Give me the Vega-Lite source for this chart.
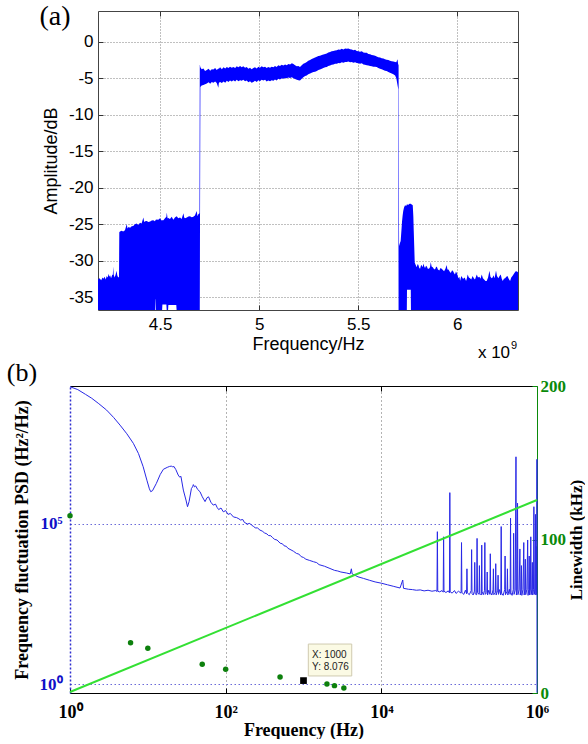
{
  "$schema": "https://vega.github.io/schema/vega-lite/v6.json",
  "background": "white",
  "padding": {"left": 6, "top": 3, "right": 0, "bottom": 0},
  "config": {"view": {"stroke": null}},
  "columns": 1,
  "spacing": -2,
  "align": "each",
  "datasets": {
    "spec": [
      {"f":4.187,"hi":-32.6,"lo":-37},{"f":4.195,"hi":-32.4,"lo":-37},{"f":4.203,"hi":-32.7,"lo":-37},{"f":4.21,"hi":-32.3,"lo":-37},
      {"f":4.214,"hi":-32.5,"lo":-37},{"f":4.22,"hi":-32.2,"lo":-37},{"f":4.226,"hi":-32.6,"lo":-37},{"f":4.231,"hi":-32.1,"lo":-37},
      {"f":4.236,"hi":-32.3,"lo":-37},{"f":4.241,"hi":-31.8,"lo":-37},{"f":4.244,"hi":-32.2,"lo":-37},{"f":4.248,"hi":-32.0,"lo":-37},
      {"f":4.253,"hi":-32.4,"lo":-37},{"f":4.258,"hi":-32.0,"lo":-37},{"f":4.262,"hi":-31.9,"lo":-37},{"f":4.264,"hi":-30.8,"lo":-37},
      {"f":4.266,"hi":-31.9,"lo":-37},{"f":4.271,"hi":-32.3,"lo":-37},{"f":4.276,"hi":-31.9,"lo":-37},{"f":4.281,"hi":-31.4,"lo":-37},
      {"f":4.284,"hi":-32.0,"lo":-37},{"f":4.289,"hi":-32.3,"lo":-37},{"f":4.293,"hi":-32.2,"lo":-37},{"f":4.2945,"hi":-26.1,"lo":-37},
      {"f":4.298,"hi":-26.0,"lo":-37},{"f":4.306,"hi":-25.9,"lo":-37},{"f":4.314,"hi":-26.0,"lo":-37},{"f":4.323,"hi":-25.85,"lo":-37},
      {"f":4.332,"hi":-25.0,"lo":-37},{"f":4.336,"hi":-25.6,"lo":-37},{"f":4.341,"hi":-25.4,"lo":-37},{"f":4.349,"hi":-25.5,"lo":-37},
      {"f":4.357,"hi":-25.3,"lo":-37},{"f":4.365,"hi":-25.25,"lo":-37},{"f":4.373,"hi":-25.0,"lo":-37},{"f":4.382,"hi":-24.9,"lo":-37},
      {"f":4.39,"hi":-25.1,"lo":-37},{"f":4.399,"hi":-24.8,"lo":-37},{"f":4.407,"hi":-24.9,"lo":-37},{"f":4.416,"hi":-24.1,"lo":-37},
      {"f":4.42,"hi":-24.7,"lo":-37},{"f":4.425,"hi":-24.6,"lo":-37},{"f":4.433,"hi":-24.55,"lo":-37},{"f":4.441,"hi":-24.7,"lo":-37},
      {"f":4.45,"hi":-24.65,"lo":-37},{"f":4.458,"hi":-24.5,"lo":-37},{"f":4.466,"hi":-24.45,"lo":-37},{"f":4.474,"hi":-24.6,"lo":-37},
      {"f":4.476,"hi":-24.5,"lo":-37},{"f":4.4775,"hi":-24.45,"lo":-35.3},{"f":4.4785,"hi":-24.4,"lo":-35.3},{"f":4.48,"hi":-24.4,"lo":-37},
      {"f":4.483,"hi":-24.35,"lo":-37},{"f":4.491,"hi":-24.4,"lo":-37},{"f":4.5,"hi":-24.2,"lo":-37},{"f":4.508,"hi":-24.5,"lo":-37},
      {"f":4.51,"hi":-24.45,"lo":-37},{"f":4.512,"hi":-24.45,"lo":-36.0},{"f":4.517,"hi":-24.45,"lo":-36.0},{"f":4.525,"hi":-24.2,"lo":-36.0},
      {"f":4.532,"hi":-24.0,"lo":-36.0},{"f":4.534,"hi":-23.4,"lo":-37},{"f":4.538,"hi":-24.2,"lo":-37},{"f":4.54,"hi":-24.2,"lo":-37},
      {"f":4.542,"hi":-24.15,"lo":-36.1},{"f":4.55,"hi":-24.3,"lo":-36.1},{"f":4.559,"hi":-24.0,"lo":-36.1},{"f":4.567,"hi":-24.4,"lo":-36.1},
      {"f":4.575,"hi":-24.1,"lo":-36.1},{"f":4.582,"hi":-23.95,"lo":-36.1},{"f":4.584,"hi":-23.9,"lo":-37},{"f":4.592,"hi":-24.2,"lo":-37},
      {"f":4.601,"hi":-24.1,"lo":-37},{"f":4.609,"hi":-24.3,"lo":-37},{"f":4.618,"hi":-23.5,"lo":-37},{"f":4.622,"hi":-24.1,"lo":-37},
      {"f":4.626,"hi":-24.2,"lo":-37},{"f":4.635,"hi":-24.1,"lo":-37},{"f":4.643,"hi":-23.95,"lo":-37},{"f":4.651,"hi":-23.9,"lo":-37},
      {"f":4.66,"hi":-24.05,"lo":-37},{"f":4.668,"hi":-24.0,"lo":-37},{"f":4.676,"hi":-23.8,"lo":-37},{"f":4.685,"hi":-23.2,"lo":-37},
      {"f":4.689,"hi":-23.9,"lo":-37},{"f":4.693,"hi":-23.65,"lo":-37},{"f":4.699,"hi":-23.5,"lo":-37},{"f":4.7005,"hi":-3.1,"lo":-37},
      {"f":4.7035,"hi":-3.5,"lo":-6.2},{"f":4.71,"hi":-3.75,"lo":-6.0},{"f":4.719,"hi":-3.67,"lo":-5.9},{"f":4.727,"hi":-4.0,"lo":-5.8},
      {"f":4.736,"hi":-3.85,"lo":-5.7},{"f":4.745,"hi":-3.7,"lo":-5.55},{"f":4.753,"hi":-3.95,"lo":-5.75},{"f":4.761,"hi":-3.75,"lo":-5.5},
      {"f":4.769,"hi":-3.8,"lo":-5.6},{"f":4.778,"hi":-3.6,"lo":-5.45},{"f":4.786,"hi":-3.85,"lo":-5.65},{"f":4.794,"hi":-3.65,"lo":-6.3},
      {"f":4.797,"hi":-3.7,"lo":-5.6},{"f":4.803,"hi":-3.5,"lo":-5.5},{"f":4.812,"hi":-3.75,"lo":-5.65},{"f":4.82,"hi":-3.5,"lo":-5.45},
      {"f":4.829,"hi":-3.65,"lo":-5.6},{"f":4.837,"hi":-3.45,"lo":-5.35},{"f":4.845,"hi":-3.6,"lo":-5.5},{"f":4.853,"hi":-3.4,"lo":-5.3},
      {"f":4.862,"hi":-3.55,"lo":-5.45},{"f":4.87,"hi":-3.45,"lo":-5.25},{"f":4.879,"hi":-3.6,"lo":-5.45},{"f":4.887,"hi":-3.35,"lo":-5.2},
      {"f":4.895,"hi":-3.5,"lo":-5.4},{"f":4.904,"hi":-3.3,"lo":-5.25},{"f":4.912,"hi":-3.5,"lo":-5.35},{"f":4.92,"hi":-3.35,"lo":-5.2},
      {"f":4.929,"hi":-3.55,"lo":-5.4},{"f":4.937,"hi":-3.45,"lo":-5.3},{"f":4.946,"hi":-3.7,"lo":-5.55},{"f":4.954,"hi":-3.55,"lo":-5.4},
      {"f":4.962,"hi":-3.75,"lo":-5.6},{"f":4.971,"hi":-3.6,"lo":-5.5},{"f":4.979,"hi":-3.5,"lo":-5.35},{"f":4.988,"hi":-3.65,"lo":-5.5},
      {"f":4.996,"hi":-3.4,"lo":-5.25},{"f":5.004,"hi":-3.55,"lo":-5.4},{"f":5.013,"hi":-3.35,"lo":-5.2},{"f":5.021,"hi":-3.5,"lo":-5.3},
      {"f":5.03,"hi":-3.4,"lo":-5.2},{"f":5.038,"hi":-3.6,"lo":-5.45},{"f":5.046,"hi":-3.45,"lo":-5.3},{"f":5.055,"hi":-3.55,"lo":-5.4},
      {"f":5.063,"hi":-3.4,"lo":-5.25},{"f":5.072,"hi":-3.5,"lo":-5.35},{"f":5.08,"hi":-3.3,"lo":-5.15},{"f":5.088,"hi":-3.45,"lo":-5.3},
      {"f":5.097,"hi":-3.2,"lo":-5.05},{"f":5.105,"hi":-3.3,"lo":-5.15},{"f":5.114,"hi":-3.15,"lo":-5.0},{"f":5.122,"hi":-3.25,"lo":-5.05},
      {"f":5.131,"hi":-3.1,"lo":-4.95},{"f":5.139,"hi":-3.2,"lo":-5.0},{"f":5.148,"hi":-3.05,"lo":-4.9},{"f":5.156,"hi":-3.1,"lo":-4.95},
      {"f":5.165,"hi":-2.95,"lo":-4.85},{"f":5.173,"hi":-3.05,"lo":-5.0},{"f":5.181,"hi":-3.2,"lo":-5.1},{"f":5.19,"hi":-3.35,"lo":-5.2},
      {"f":5.198,"hi":-3.3,"lo":-5.25},{"f":5.206,"hi":-3.45,"lo":-5.3},{"f":5.215,"hi":-3.2,"lo":-5.05},{"f":5.223,"hi":-3.0,"lo":-4.85},
      {"f":5.232,"hi":-2.9,"lo":-4.7},{"f":5.24,"hi":-2.75,"lo":-4.6},{"f":5.248,"hi":-2.6,"lo":-4.45},{"f":5.257,"hi":-2.5,"lo":-4.35},
      {"f":5.265,"hi":-2.35,"lo":-4.25},{"f":5.274,"hi":-2.25,"lo":-4.15},{"f":5.282,"hi":-2.15,"lo":-4.1},{"f":5.291,"hi":-2.05,"lo":-4.0},
      {"f":5.299,"hi":-1.95,"lo":-3.85},{"f":5.307,"hi":-1.9,"lo":-3.8},{"f":5.316,"hi":-1.8,"lo":-3.7},{"f":5.324,"hi":-1.75,"lo":-3.6},
      {"f":5.333,"hi":-1.65,"lo":-3.5},{"f":5.341,"hi":-1.6,"lo":-3.45},{"f":5.349,"hi":-1.45,"lo":-3.3},{"f":5.358,"hi":-1.4,"lo":-3.25},
      {"f":5.366,"hi":-1.3,"lo":-3.15},{"f":5.375,"hi":-1.25,"lo":-3.1},{"f":5.383,"hi":-1.2,"lo":-3.0},{"f":5.392,"hi":-1.15,"lo":-3.0},
      {"f":5.4,"hi":-1.05,"lo":-2.9},{"f":5.408,"hi":-1.1,"lo":-2.95},{"f":5.417,"hi":-0.95,"lo":-2.8},{"f":5.425,"hi":-1.05,"lo":-2.85},
      {"f":5.434,"hi":-0.9,"lo":-2.75},{"f":5.442,"hi":-0.95,"lo":-2.75},{"f":5.45,"hi":-0.9,"lo":-2.7},{"f":5.459,"hi":-1.0,"lo":-2.8},
      {"f":5.467,"hi":-1.05,"lo":-2.75},{"f":5.476,"hi":-1.15,"lo":-2.85},{"f":5.484,"hi":-1.1,"lo":-2.8},{"f":5.492,"hi":-1.25,"lo":-2.9},
      {"f":5.501,"hi":-1.3,"lo":-2.95},{"f":5.509,"hi":-1.35,"lo":-3.0},{"f":5.518,"hi":-1.3,"lo":-2.95},{"f":5.526,"hi":-1.45,"lo":-3.1},
      {"f":5.534,"hi":-1.5,"lo":-3.15},{"f":5.543,"hi":-1.5,"lo":-3.2},{"f":5.551,"hi":-1.65,"lo":-3.25},{"f":5.56,"hi":-1.7,"lo":-3.3},
      {"f":5.568,"hi":-1.8,"lo":-3.35},{"f":5.576,"hi":-1.85,"lo":-3.4},{"f":5.585,"hi":-1.9,"lo":-3.4},{"f":5.593,"hi":-2.0,"lo":-3.45},
      {"f":5.601,"hi":-2.1,"lo":-3.6},{"f":5.61,"hi":-2.15,"lo":-3.7},{"f":5.618,"hi":-2.25,"lo":-3.75},{"f":5.627,"hi":-2.3,"lo":-3.85},
      {"f":5.635,"hi":-2.4,"lo":-3.95},{"f":5.643,"hi":-2.45,"lo":-4.0},{"f":5.652,"hi":-2.5,"lo":-4.15},{"f":5.66,"hi":-2.6,"lo":-4.25},
      {"f":5.669,"hi":-2.65,"lo":-4.35},{"f":5.677,"hi":-2.7,"lo":-4.45},{"f":5.686,"hi":-2.75,"lo":-4.6},{"f":5.692,"hi":-2.8,"lo":-5.0},
      {"f":5.698,"hi":-2.4,"lo":-5.9},{"f":5.702,"hi":-3.2,"lo":-6.5},{"f":5.7035,"hi":-3.0,"lo":-37},{"f":5.706,"hi":-28.0,"lo":-37},
      {"f":5.71,"hi":-27.6,"lo":-37},{"f":5.714,"hi":-27.3,"lo":-37},{"f":5.718,"hi":-25.8,"lo":-37},{"f":5.721,"hi":-24.6,"lo":-37},
      {"f":5.724,"hi":-23.8,"lo":-37},{"f":5.727,"hi":-23.2,"lo":-37},{"f":5.731,"hi":-22.7,"lo":-37},{"f":5.736,"hi":-22.4,"lo":-37},
      {"f":5.742,"hi":-22.5,"lo":-37},{"f":5.745,"hi":-22.3,"lo":-37},{"f":5.746,"hi":-22.3,"lo":-34.0},{"f":5.753,"hi":-22.35,"lo":-34.0},
      {"f":5.759,"hi":-22.2,"lo":-34.0},{"f":5.765,"hi":-22.2,"lo":-34.0},{"f":5.766,"hi":-22.25,"lo":-37},{"f":5.77,"hi":-22.3,"lo":-37},
      {"f":5.775,"hi":-22.4,"lo":-37},{"f":5.778,"hi":-24.0,"lo":-37},{"f":5.78,"hi":-25.9,"lo":-37},{"f":5.783,"hi":-28.5,"lo":-37},
      {"f":5.785,"hi":-30.3,"lo":-37},{"f":5.79,"hi":-30.6,"lo":-37},{"f":5.795,"hi":-30.9,"lo":-37},{"f":5.799,"hi":-30.5,"lo":-37},
      {"f":5.803,"hi":-30.55,"lo":-37},{"f":5.808,"hi":-31.0,"lo":-37},{"f":5.812,"hi":-31.1,"lo":-37},{"f":5.816,"hi":-30.7,"lo":-37},
      {"f":5.82,"hi":-30.6,"lo":-37},{"f":5.825,"hi":-30.9,"lo":-37},{"f":5.829,"hi":-30.4,"lo":-37},{"f":5.833,"hi":-30.8,"lo":-37},
      {"f":5.837,"hi":-31.0,"lo":-37},{"f":5.842,"hi":-30.7,"lo":-37},{"f":5.846,"hi":-30.8,"lo":-37},{"f":5.851,"hi":-31.1,"lo":-37},
      {"f":5.857,"hi":-31.1,"lo":-37},{"f":5.862,"hi":-30.9,"lo":-37},{"f":5.866,"hi":-30.2,"lo":-37},{"f":5.87,"hi":-30.8,"lo":-37},
      {"f":5.876,"hi":-30.9,"lo":-37},{"f":5.881,"hi":-31.1,"lo":-37},{"f":5.887,"hi":-31.2,"lo":-37},{"f":5.892,"hi":-30.9,"lo":-37},
      {"f":5.896,"hi":-30.8,"lo":-37},{"f":5.902,"hi":-31.2,"lo":-37},{"f":5.909,"hi":-31.35,"lo":-37},{"f":5.915,"hi":-31.0,"lo":-37},
      {"f":5.921,"hi":-31.1,"lo":-37},{"f":5.927,"hi":-31.3,"lo":-37},{"f":5.933,"hi":-31.45,"lo":-37},{"f":5.94,"hi":-31.1,"lo":-37},
      {"f":5.946,"hi":-30.6,"lo":-37},{"f":5.95,"hi":-31.2,"lo":-37},{"f":5.955,"hi":-31.2,"lo":-37},{"f":5.961,"hi":-31.5,"lo":-37},
      {"f":5.967,"hi":-31.7,"lo":-37},{"f":5.972,"hi":-31.4,"lo":-37},{"f":5.977,"hi":-31.35,"lo":-37},{"f":5.983,"hi":-31.7,"lo":-37},
      {"f":5.988,"hi":-31.9,"lo":-37},{"f":5.993,"hi":-31.5,"lo":-37},{"f":5.997,"hi":-31.7,"lo":-37},{"f":6.001,"hi":-32.0,"lo":-37},
      {"f":6.005,"hi":-32.4,"lo":-37},{"f":6.01,"hi":-32.2,"lo":-37},{"f":6.014,"hi":-32.75,"lo":-37},{"f":6.018,"hi":-32.3,"lo":-37},
      {"f":6.022,"hi":-32.1,"lo":-37},{"f":6.026,"hi":-32.4,"lo":-37},{"f":6.03,"hi":-32.5,"lo":-37},{"f":6.037,"hi":-32.3,"lo":-37},
      {"f":6.044,"hi":-32.8,"lo":-37},{"f":6.048,"hi":-32.4,"lo":-37},{"f":6.052,"hi":-31.9,"lo":-37},{"f":6.058,"hi":-32.3,"lo":-37},
      {"f":6.064,"hi":-32.4,"lo":-37},{"f":6.07,"hi":-32.6,"lo":-37},{"f":6.077,"hi":-32.1,"lo":-37},{"f":6.083,"hi":-32.4,"lo":-37},
      {"f":6.089,"hi":-32.6,"lo":-37},{"f":6.094,"hi":-32.2,"lo":-37},{"f":6.098,"hi":-31.9,"lo":-37},{"f":6.104,"hi":-32.3,"lo":-37},
      {"f":6.111,"hi":-32.2,"lo":-37},{"f":6.117,"hi":-32.5,"lo":-37},{"f":6.123,"hi":-31.9,"lo":-37},{"f":6.129,"hi":-32.4,"lo":-37},
      {"f":6.135,"hi":-32.6,"lo":-37},{"f":6.142,"hi":-32.8,"lo":-37},{"f":6.148,"hi":-32.8,"lo":-37},{"f":6.155,"hi":-32.3,"lo":-37},
      {"f":6.162,"hi":-31.4,"lo":-37},{"f":6.167,"hi":-32.2,"lo":-37},{"f":6.173,"hi":-32.4,"lo":-37},{"f":6.178,"hi":-32.3,"lo":-37},
      {"f":6.182,"hi":-32.0,"lo":-37},{"f":6.188,"hi":-32.4,"lo":-37},{"f":6.195,"hi":-31.35,"lo":-37},{"f":6.2,"hi":-32.1,"lo":-37},
      {"f":6.207,"hi":-32.4,"lo":-37},{"f":6.213,"hi":-32.1,"lo":-37},{"f":6.219,"hi":-31.9,"lo":-37},{"f":6.224,"hi":-32.5,"lo":-37},
      {"f":6.229,"hi":-32.8,"lo":-37},{"f":6.235,"hi":-32.5,"lo":-37},{"f":6.241,"hi":-32.4,"lo":-37},{"f":6.247,"hi":-32.2,"lo":-37},
      {"f":6.253,"hi":-32.1,"lo":-37},{"f":6.259,"hi":-32.5,"lo":-37},{"f":6.266,"hi":-32.8,"lo":-37},{"f":6.272,"hi":-32.3,"lo":-37},
      {"f":6.278,"hi":-32.1,"lo":-37},{"f":6.283,"hi":-31.9,"lo":-37},{"f":6.288,"hi":-31.7,"lo":-37},{"f":6.293,"hi":-31.5,"lo":-37},
      {"f":6.297,"hi":-31.45,"lo":-37},{"f":6.301,"hi":-31.5,"lo":-37},{"f":6.306,"hi":-31.6,"lo":-37}
    ],
    "psd": [
      {"f":1,"v":1950000000},{"f":1.259,"v":1585000000},{"f":1.585,"v":1122000000},{"f":1.9,"v":851000000},
      {"f":2.344,"v":575400000},{"f":2.951,"v":363100000},{"f":3.631,"v":213800000},{"f":4.395,"v":123000000},
      {"f":5.37,"v":66070000},{"f":6.516,"v":33110000},{"f":7.586,"v":15850000},{"f":8.71,"v":6166000},
      {"f":9.772,"v":2239000},{"f":10.47,"v":1259000},{"f":10.89,"v":1023000},{"f":11.48,"v":1096000},
      {"f":12.88,"v":1862000},{"f":14.45,"v":3548000},{"f":15.85,"v":5129000},{"f":17.78,"v":5888000},
      {"f":19.05,"v":6300000},{"f":20.28,"v":6457000},{"f":20.89,"v":6000000},{"f":21.63,"v":6300000},
      {"f":22.91,"v":5000000},{"f":24.55,"v":3388000},{"f":25.7,"v":2900000},{"f":26.61,"v":3100000},
      {"f":28.58,"v":1148000},{"f":30.9,"v":562300},{"f":32.36,"v":346700},{"f":33.88,"v":501200},
      {"f":36.31,"v":1288000},{"f":37.58,"v":1450000},{"f":38.46,"v":1700000},{"f":39.81,"v":1450000},
      {"f":41.21,"v":1550000},{"f":43.65,"v":1200000},{"f":46.77,"v":1023000},{"f":50.12,"v":707900},
      {"f":54.33,"v":501200},{"f":57.54,"v":660700},{"f":60.26,"v":707900},{"f":64.57,"v":478600},
      {"f":69.18,"v":389000},{"f":74.13,"v":416900},{"f":77.62,"v":330000},{"f":81.28,"v":281800},
      {"f":87.1,"v":316200},{"f":93.33,"v":239900},{"f":100,"v":263000},{"f":107.2,"v":199500},
      {"f":114.8,"v":213800},{"f":125.9,"v":166000},{"f":138,"v":158500},{"f":147.9,"v":145000},
      {"f":154.9,"v":133400},{"f":166,"v":138000},{"f":173.8,"v":112200},{"f":190.5,"v":100000},
      {"f":204.2,"v":105000},{"f":213.8,"v":93330},{"f":229.1,"v":83000},{"f":239.9,"v":75860},
      {"f":257,"v":75000},{"f":275.4,"v":64570},{"f":295.1,"v":60000},{"f":316.2,"v":52480},
      {"f":338.8,"v":49000},{"f":354.8,"v":43650},{"f":380.2,"v":43000},{"f":398.1,"v":38020},
      {"f":426.6,"v":33000},{"f":457.1,"v":31620},{"f":501.2,"v":25120},{"f":537,"v":24000},
      {"f":562.3,"v":20890},{"f":602.6,"v":20000},{"f":631,"v":17380},{"f":691.8,"v":15500},
      {"f":741.3,"v":14130},{"f":812.8,"v":12020},{"f":871,"v":11500},{"f":933.3,"v":9550},
      {"f":1000,"v":9000},{"f":1072,"v":7943},{"f":1202,"v":7244},{"f":1349,"v":6607},
      {"f":1479,"v":6200},{"f":1585,"v":5370},{"f":1862,"v":4786},{"f":2188,"v":4074},
      {"f":2512,"v":3548},{"f":2754,"v":3400},{"f":3020,"v":3162},{"f":3548,"v":2951},
      {"f":3981,"v":2754},{"f":4121,"v":3981},{"f":4217,"v":2754},{"f":5012,"v":2239},
      {"f":5888,"v":1995},{"f":7079,"v":1738},{"f":8318,"v":1549},{"f":10000,"v":1413},
      {"f":12020,"v":1259},{"f":14450,"v":1122},{"f":17380,"v":1000},{"f":18840,"v":1778},
      {"f":19280,"v":977},{"f":22390,"v":912},{"f":25120,"v":891},{"f":28180,"v":851},
      {"f":31620,"v":871},{"f":35480,"v":813},{"f":39810,"v":851},{"f":44670,"v":794},
      {"f":50120,"v":832},{"f":51880,"v":776},{"f":52480,"v":57544},{"f":53090,"v":794},
      {"f":56230,"v":759},{"f":60260,"v":832},{"f":62370,"v":741},{"f":63100,"v":39811},
      {"f":63830,"v":794},{"f":67610,"v":724},{"f":72440,"v":813},{"f":74990,"v":708},
      {"f":75860,"v":954993},{"f":76740,"v":759},{"f":81280,"v":692},{"f":87100,"v":832},
      {"f":91200,"v":676},{"f":97720,"v":794},{"f":105900,"v":692},{"f":107200,"v":26303},
      {"f":108400,"v":724},{"f":114800,"v":631},{"f":120200,"v":851},{"f":124500,"v":661},
      {"f":125900,"v":3981},{"f":127400,"v":708},{"f":134900,"v":617},{"f":142900,"v":832},
      {"f":144500,"v":15849},{"f":146200,"v":676},{"f":151400,"v":603},{"f":156700,"v":794},
      {"f":158500,"v":6310},{"f":160300,"v":661},{"f":167900,"v":617},{"f":169800,"v":35481},
      {"f":171800,"v":724},{"f":179900,"v":631},{"f":182000,"v":5012},{"f":184100,"v":676},
      {"f":192800,"v":603},{"f":195000,"v":21878},{"f":197200,"v":759},{"f":204200,"v":617},
      {"f":211300,"v":832},{"f":213800,"v":26303},{"f":216300,"v":631},{"f":226500,"v":724},
      {"f":229100,"v":3162},{"f":231700,"v":603},{"f":239900,"v":851},{"f":248300,"v":631},
      {"f":251200,"v":11749},{"f":254100,"v":708},{"f":263000,"v":603},{"f":272300,"v":871},
      {"f":275400,"v":3981},{"f":278600,"v":617},{"f":291700,"v":724},{"f":295100,"v":5754},
      {"f":298500,"v":603},{"f":312600,"v":851},{"f":316200,"v":2512},{"f":319900,"v":631},
      {"f":331100,"v":891},{"f":342800,"v":603},{"f":346700,"v":83176},{"f":350800,"v":692},
      {"f":367300,"v":589},{"f":384600,"v":891},{"f":389000,"v":10000},{"f":393600,"v":617},
      {"f":412100,"v":794},{"f":416900,"v":3981},{"f":421700,"v":603},{"f":441600,"v":912},
      {"f":451900,"v":631},{"f":457100,"v":151356},{"f":462400,"v":708},{"f":478600,"v":589},
      {"f":495500,"v":891},{"f":501200,"v":51286},{"f":507000,"v":631},{"f":524800,"v":851},
      {"f":537000,"v":12590000},{"f":543300,"v":603},{"f":555900,"v":933},{"f":562300,"v":446684},
      {"f":568900,"v":617},{"f":588800,"v":871},{"f":602600,"v":16596},{"f":609500,"v":603},
      {"f":623700,"v":912},{"f":631000,"v":5012},{"f":638300,"v":589},{"f":660700,"v":891},
      {"f":676100,"v":26303},{"f":683900,"v":603},{"f":699800,"v":933},{"f":707900,"v":7943},
      {"f":716100,"v":617},{"f":741300,"v":912},{"f":758600,"v":31623},{"f":767400,"v":589},
      {"f":785200,"v":891},{"f":794300,"v":10000},{"f":803500,"v":603},{"f":822200,"v":933},
      {"f":831800,"v":39811},{"f":841400,"v":617},{"f":861000,"v":912},{"f":871000,"v":6310},
      {"f":881000,"v":603},{"f":901600,"v":891},{"f":912000,"v":346737},{"f":922600,"v":631},
      {"f":944100,"v":933},{"f":955000,"v":199526},{"f":966100,"v":603},{"f":977200,"v":19953},
      {"f":988600,"v":631},{"f":997700,"v":10470000},{"f":1000000,"v":0.53}
    ],
    "beta": [{"f":1,"v":0.5618},{"f":1000000,"v":561800}],
    "lw": [
      {"f":1,"w":115.5},{"f":6,"w":32.8},{"f":10,"w":29.1},{"f":50,"w":18.7},{"f":100,"w":15.4},
      {"f":500,"w":10.4},{"f":2000,"w":5.9},{"f":2500,"w":4.8},{"f":3300,"w":3.3}
    ],
    "tip": [{"f":1000,"w":8.076}]
  },
  "concat": [
    {
      "width": 448,
      "height": 299,
      "layer": [
        {
          "data": {"name": "spec"},
          "mark": {"type": "area", "color": "#0000ff", "clip": true},
          "encoding": {
            "x": {"field": "f", "type": "quantitative",
              "scale": {"domain": [4.187, 6.306], "range": [28, 448], "nice": false, "zero": false},
              "axis": {"orient": "bottom", "values": [4.5, 5, 5.5, 6], "labelExpr": "'' + datum.value",
                "title": "Frequency/Hz", "labelFont": "Liberation Sans", "labelFontSize": 17, "labelColor": "#000",
                "labelFlush": false, "labelOverlap": false, "labelPadding": 11, "tickSize": -5, "tickColor": "#333",
                "domainColor": "#444", "grid": true, "gridColor": "#808080", "gridDash": [1, 2],
                "titleFont": "Liberation Sans", "titleFontSize": 18, "titleFontWeight": "normal", "titleColor": "#000", "titlePadding": 3}},
            "y": {"field": "hi", "type": "quantitative",
              "scale": {"domain": [-36.77, 4.23], "nice": false, "zero": false},
              "axis": {"orient": "left", "offset": -28, "values": [-35, -30, -25, -20, -15, -10, -5, 0], "labelExpr": "'' + datum.value",
                "title": "Amplitude/dB", "labelFont": "Liberation Sans", "labelFontSize": 17, "labelColor": "#000",
                "labelFlush": false, "labelOverlap": false, "labelPadding": 10, "tickSize": -5, "tickColor": "#333",
                "domainColor": "#444", "grid": true, "gridColor": "#808080", "gridDash": [1, 2],
                "titleFont": "Liberation Sans", "titleFontSize": 18, "titleFontWeight": "normal", "titleColor": "#000", "titlePadding": 8}},
            "y2": {"field": "lo"}
          }
        },
        {
          "data": {"values": [{}]},
          "mark": {"type": "text", "text": "(a)", "font": "Liberation Serif", "fontSize": 28, "align": "center", "baseline": "alphabetic", "color": "#000"},
          "encoding": {
            "x": {"datum": 3.97, "type": "quantitative",
              "axis": {"orient": "top", "values": [4.5, 5, 5.5, 6], "labels": false, "grid": false, "title": null, "tickSize": -5, "tickColor": "#333", "domainColor": "#444"}},
            "y": {"datum": 2.3, "type": "quantitative",
              "axis": {"orient": "right", "values": [-35, -30, -25, -20, -15, -10, -5, 0], "labels": false, "grid": false, "title": null, "tickSize": -5, "tickColor": "#333", "domainColor": "#444"}}
          }
        },
        {
          "data": {"values": [{}]},
          "mark": {"type": "text", "text": "x 10", "font": "Liberation Sans", "fontSize": 17, "align": "right", "baseline": "alphabetic", "color": "#000"},
          "encoding": {
            "x": {"datum": 6.266, "type": "quantitative", "axis": null},
            "y": {"datum": -43.39, "type": "quantitative", "axis": null}
          }
        },
        {
          "data": {"values": [{}]},
          "mark": {"type": "text", "text": "9", "font": "Liberation Sans", "fontSize": 11, "align": "left", "baseline": "alphabetic", "color": "#000"},
          "encoding": {
            "x": {"datum": 6.271, "type": "quantitative", "axis": null},
            "y": {"datum": -42.09, "type": "quantitative", "axis": null}
          }
        }
      ],
      "resolve": {"axis": {"x": "independent", "y": "independent"}}
    },
    {
      "width": 467,
      "height": 307,
      "layer": [
        {
          "layer": [
            {
              "data": {"name": "psd"},
              "mark": {"type": "line", "color": "#2828e6", "strokeWidth": 1},
              "encoding": {
                "x": {"field": "f", "type": "quantitative",
                  "scale": {"type": "log", "domain": [1, 1000000], "nice": false},
                  "axis": {"orient": "bottom", "values": [1, 100, 10000, 1000000],
                    "labelExpr": "datum.value == 1 ? '10⁰' : datum.value == 100 ? '10²' : datum.value == 10000 ? '10⁴' : '10⁶'",
                    "title": "Frequency (Hz)", "labelFont": "Liberation Serif", "labelFontWeight": "bold", "labelFontSize": 18, "labelColor": "#000",
                    "labelFlush": false, "labelOverlap": false, "labelPadding": 15, "tickSize": -5, "tickColor": "#000",
                    "domainColor": "#000", "grid": false,
                    "titleFont": "Liberation Serif", "titleFontSize": 18, "titleFontWeight": "bold", "titleColor": "#000", "titlePadding": 0}},
                "y": {"field": "v", "type": "quantitative",
                  "scale": {"type": "log", "domain": [0.5234, 2053000000], "nice": false},
                  "axis": {"orient": "left", "values": [1, 100000],
                    "labelExpr": "datum.value == 1 ? '10⁰' : '10⁵'",
                    "title": "Frequency fluctuation PSD (Hz²/Hz)", "labelFont": "Liberation Serif", "labelFontWeight": "bold", "labelFontSize": 17, "labelColor": "#1010c8",
                    "labelFlush": false, "labelOverlap": false, "labelPadding": 8, "ticks": false,
                    "domainColor": "#2f2fd0", "domainDash": [2, 2], "domainWidth": 1.5,
                    "grid": true, "gridColor": "#6a6ad8", "gridDash": [1.5, 2.5],
                    "titleFont": "Liberation Serif", "titleFontSize": 18, "titleFontWeight": "bold", "titleColor": "#000", "titlePadding": 8}}
              }
            },
            {
              "data": {"name": "beta"},
              "mark": {"type": "line", "color": "#33e033", "strokeWidth": 2},
              "encoding": {
                "x": {"field": "f", "type": "quantitative"},
                "y": {"field": "v", "type": "quantitative"}
              }
            },
            {
              "data": {"values": [{}]},
              "mark": {"type": "text", "text": "(b)", "font": "Liberation Serif", "fontSize": 26, "align": "center", "baseline": "alphabetic", "color": "#000"},
              "encoding": {
                "x": {"datum": 0.2416, "type": "quantitative"},
                "y": {"datum": 2840000000, "type": "quantitative"}
              }
            }
          ]
        },
        {
          "layer": [
            {
              "data": {"name": "lw"},
              "mark": {"type": "point", "filled": true, "color": "#0d800d", "size": 30, "opacity": 1},
              "encoding": {
                "x": {"field": "f", "type": "quantitative",
                  "axis": {"orient": "top", "values": [100, 10000], "labels": false, "title": null, "tickSize": -5, "tickColor": "#000",
                    "domainColor": "#000", "grid": true, "gridColor": "#666", "gridDash": [1, 3]}},
                "y": {"field": "w", "type": "quantitative",
                  "scale": {"domain": [0, 200], "nice": false},
                  "axis": {"orient": "right", "values": [0, 100, 200], "title": "Linewidth (kHz)",
                    "labelFont": "Liberation Serif", "labelFontWeight": "bold", "labelFontSize": 17, "labelColor": "#0a8a0a",
                    "labelFlush": false, "labelOverlap": false, "labelPadding": 8, "tickSize": -5, "tickColor": "#0a8a0a",
                    "domainColor": "#0a8a0a", "grid": false,
                    "titleFont": "Liberation Serif", "titleFontSize": 17, "titleFontWeight": "bold", "titleColor": "#000",
                    "titleAngle": 270, "titleBaseline": "top", "titlePadding": 3}}
              }
            },
            {
              "data": {"name": "tip"},
              "mark": {"type": "square", "color": "#000", "size": 45, "opacity": 1},
              "encoding": {
                "x": {"field": "f", "type": "quantitative"},
                "y": {"field": "w", "type": "quantitative"}
              }
            },
            {
              "data": {"values": [{}]},
              "mark": {"type": "rect", "fill": "#fbfae4", "stroke": "#cfcab0", "strokeWidth": 1},
              "encoding": {
                "x": {"datum": 1153, "type": "quantitative"},
                "x2": {"datum": 4166},
                "y": {"datum": 31.9, "type": "quantitative"},
                "y2": {"datum": 11.1}
              }
            },
            {
              "data": {"values": [{}]},
              "mark": {"type": "text", "text": "X: 1000", "font": "Liberation Sans", "fontSize": 10, "align": "left", "baseline": "alphabetic", "color": "#222"},
              "encoding": {
                "x": {"datum": 1290, "type": "quantitative"},
                "y": {"datum": 22.8, "type": "quantitative"}
              }
            },
            {
              "data": {"values": [{}]},
              "mark": {"type": "text", "text": "Y: 8.076", "font": "Liberation Sans", "fontSize": 10, "align": "left", "baseline": "alphabetic", "color": "#222"},
              "encoding": {
                "x": {"datum": 1290, "type": "quantitative"},
                "y": {"datum": 15.0, "type": "quantitative"}
              }
            }
          ]
        }
      ],
      "resolve": {"scale": {"y": "independent"}, "axis": {"x": "independent", "y": "independent"}}
    }
  ]
}
